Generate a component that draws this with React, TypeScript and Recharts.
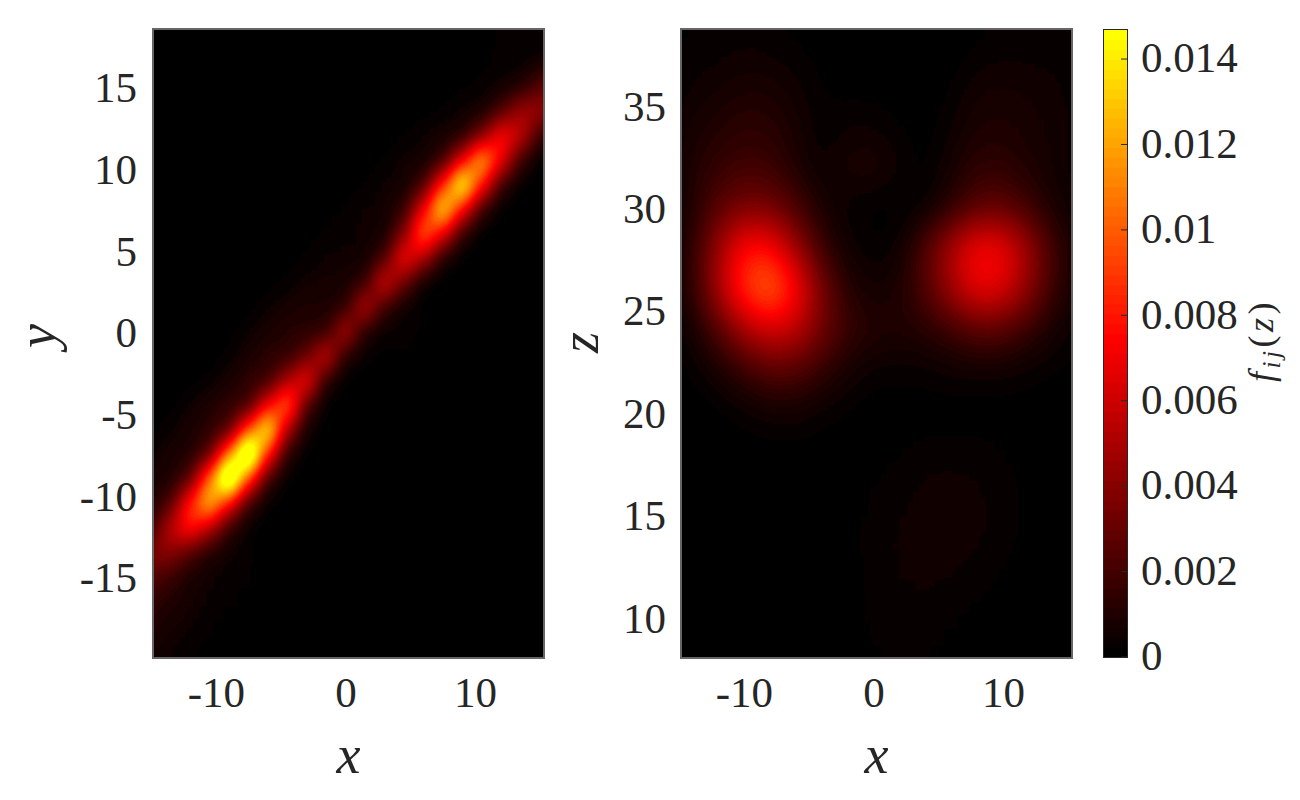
import { CartesianGrid, Scatter, ScatterChart, XAxis, YAxis } from 'recharts'

// colour scale limits, values below are in units of 1e-4
const COLOR_MAX = 146.8
const XY_GRAY_MAX = 220
const XZ_GRAY_MAX = 120
const LEVELS = 64

const xTicks = [-10, 0, 10]
const yTicks = [-15, -10, -5, 0, 5, 10, 15]
const zTicks = [10, 15, 20, 25, 30, 35]
const barTicks = [0, 0.002, 0.004, 0.006, 0.008, 0.01, 0.012, 0.014]

const xDomain = [-14.97, 15.37]
const yDomain = [-19.96, 18.62]
const zDomain = [8.02, 38.78]
const barDomain = [0, 0.01468]

// left panel f(x, y)
const xyCols = [-16.5, -15, -13.5, -12, -10.5, -9, -7.5, -6, -4.5, -3, -1.5, 0, 1.5, 3, 4.5, 6, 7.5, 9, 10.5, 12, 13.5, 15, 16.5]
const xyRows = [19.5, 18, 16.5, 15, 13.5, 12, 10.5, 9, 7.5, 6, 4.5, 3, 1.5, 0, -1.5, -3, -4.5, -6, -7.5, -9, -10.5, -12, -13.5, -15, -16.5, -18, -19.5, -21]
const xyValues = [
  [0, 0, 0, 0, 0, 0, 0, 0, 0, 0, 0, 0, 0, 0, 0, 0, 0, 0, 0, 2, 3, 3, 1],
  [0, 0, 0, 0, 0, 0, 0, 0, 0, 0, 0, 0, 0, 0, 0, 0, 0, 0, 1, 3, 4, 2, 1],
  [0, 0, 0, 0, 0, 0, 0, 0, 0, 0, 0, 0, 0, 0, 0, 0, 0, 0, 2, 3, 3, 5, 16],
  [0, 0, 0, 0, 0, 0, 0, 0, 0, 0, 0, 0, 0, 0, 0, 0, 0, 2, 3, 5, 10, 26, 40],
  [0, 0, 0, 0, 0, 0, 0, 0, 0, 0, 0, 0, 0, 0, 0, 1, 3, 5, 7, 22, 48, 48, 22],
  [0, 0, 0, 0, 0, 0, 0, 0, 0, 0, 0, 0, 0, 0, 2, 5, 7, 10, 36, 80, 60, 18, 3],
  [0, 0, 0, 0, 0, 0, 0, 0, 0, 0, 0, 0, 0, 3, 6, 6, 16, 66, 130, 74, 18, 2, 0],
  [0, 0, 0, 0, 0, 0, 0, 0, 0, 0, 0, 0, 3, 5, 6, 20, 84, 165, 84, 18, 2, 0, 0],
  [0, 0, 0, 0, 0, 0, 0, 0, 0, 0, 1, 3, 5, 6, 15, 70, 148, 78, 17, 1, 0, 0, 0],
  [0, 0, 0, 0, 0, 0, 0, 0, 0, 1, 3, 4, 5, 6, 38, 108, 70, 15, 1, 0, 0, 0, 0],
  [0, 0, 0, 0, 0, 0, 0, 0, 1, 3, 5, 5, 5, 22, 78, 52, 10, 1, 0, 0, 0, 0, 0],
  [0, 0, 0, 0, 0, 0, 0, 1, 3, 6, 7, 8, 16, 66, 32, 4, 0, 0, 0, 0, 0, 0, 0],
  [0, 0, 0, 0, 0, 0, 1, 4, 8, 10, 9, 14, 58, 18, 4, 1, 0, 0, 0, 0, 0, 0, 0],
  [0, 0, 0, 0, 0, 1, 4, 9, 12, 12, 15, 54, 11, 3, 4, 2, 0, 0, 0, 0, 0, 0, 0],
  [0, 0, 0, 0, 1, 3, 9, 14, 14, 30, 64, 12, 3, 2, 2, 0, 0, 0, 0, 0, 0, 0, 0],
  [0, 0, 0, 1, 3, 9, 15, 16, 50, 78, 13, 1, 1, 0, 0, 0, 0, 0, 0, 0, 0, 0, 0],
  [0, 0, 1, 5, 10, 15, 18, 72, 110, 24, 2, 0, 0, 0, 0, 0, 0, 0, 0, 0, 0, 0, 0],
  [0, 1, 4, 9, 13, 23, 96, 155, 50, 7, 0, 0, 0, 0, 0, 0, 0, 0, 0, 0, 0, 0, 0],
  [1, 4, 9, 10, 26, 110, 205, 84, 13, 1, 0, 0, 0, 0, 0, 0, 0, 0, 0, 0, 0, 0, 0],
  [3, 8, 9, 26, 106, 205, 95, 18, 2, 0, 0, 0, 0, 0, 0, 0, 0, 0, 0, 0, 0, 0, 0],
  [5, 8, 24, 86, 135, 76, 18, 3, 0, 0, 0, 0, 0, 0, 0, 0, 0, 0, 0, 0, 0, 0, 0],
  [8, 18, 58, 85, 54, 16, 3, 0, 0, 0, 0, 0, 0, 0, 0, 0, 0, 0, 0, 0, 0, 0, 0],
  [30, 40, 42, 24, 10, 5, 3, 1, 0, 0, 0, 0, 0, 0, 0, 0, 0, 0, 0, 0, 0, 0, 0],
  [30, 26, 17, 9, 5, 3.5, 2.3, 0, 0, 0, 0, 0, 0, 0, 0, 0, 0, 0, 0, 0, 0, 0, 0],
  [18, 15, 10, 7, 4.5, 3, 2, 0, 0, 0, 0, 0, 0, 0, 0, 0, 0, 0, 0, 0, 0, 0, 0],
  [11, 10, 7, 5, 2.5, 1, 0, 0, 0, 0, 0, 0, 0, 0, 0, 0, 0, 0, 0, 0, 0, 0, 0],
  [8, 7, 5, 3, 1.5, 0, 0, 0, 0, 0, 0, 0, 0, 0, 0, 0, 0, 0, 0, 0, 0, 0, 0],
  [6, 5, 4, 2, 1, 0, 0, 0, 0, 0, 0, 0, 0, 0, 0, 0, 0, 0, 0, 0, 0, 0, 0],
]

// right panel f(x, z)
const xzCols = [-18, -16, -14, -12, -10, -8, -6, -4, -2, 0, 2, 4, 6, 8, 10, 12, 14, 16, 18]
const xzRows = [40, 38, 36, 34, 32, 30, 28, 26, 24, 22, 20, 18, 16, 14, 12, 10, 8, 6]
const xzValues = [
  [1, 1, 1, 2, 2, 2, 1, 0, 0, 0, 0, 0, 0, 1, 2, 2, 2, 2, 2],
  [1, 2, 3, 3, 4, 3, 2, 1, 0, 0, 0, 0, 0, 2, 3, 3, 3, 3, 2],
  [1, 2, 4, 6, 8, 8, 5, 2, 1, 0.5, 0.5, 0, 2, 6, 7, 6, 5, 3, 2],
  [1, 3, 7, 11, 14, 13, 8, 2.5, 4, 4, 2, 0.5, 4, 9, 10, 8, 6, 3, 2],
  [1, 4, 10, 16, 19, 18, 10, 3.5, 9, 10, 5, 1, 7, 14, 14, 10, 6, 3, 1],
  [0.5, 2, 10, 26, 36, 34, 22, 8, 3, 1, 0.5, 3, 13, 26, 28, 18, 8, 3, 1],
  [0.5, 2, 14, 46, 78, 78, 48, 18, 5, 2, 4, 25, 52, 76, 72, 46, 18, 6, 1],
  [0.5, 2, 14, 50, 90, 106, 78, 36, 12, 6, 10, 24, 48, 70, 66, 42, 16, 5, 1],
  [0, 1, 6, 24, 48, 62, 56, 34, 18, 12, 10, 12, 18, 26, 25, 15, 7, 2, 1],
  [0, 0.5, 2, 7, 16, 25, 24, 15, 7, 3, 3, 3, 4, 4, 4, 3, 2, 1, 0.5],
  [0, 0, 0.5, 1, 3, 5, 5.5, 3, 1.5, 0.5, 0.5, 0.5, 0.5, 0.5, 0.5, 0.5, 0, 0, 0],
  [0, 0, 0, 0, 0.5, 0.5, 0.5, 0.5, 0.5, 1.5, 2, 3.3, 3.3, 3.3, 2.5, 1, 0, 0, 0],
  [0, 0, 0, 0, 0, 0, 0, 0, 0.8, 2.5, 3.5, 5.5, 6, 5.2, 3.3, 1.3, 0, 0, 0],
  [0, 0, 0, 0, 0, 0, 0, 0, 1.2, 3, 5, 6, 6, 5, 3.2, 1.2, 0, 0, 0],
  [0, 0, 0, 0, 0, 0, 0, 0, 1, 3, 4.5, 5, 4.5, 3.3, 1.8, 0.5, 0, 0, 0],
  [0, 0, 0, 0, 0, 0, 0, 0, 0.8, 3, 3.5, 3.5, 2.5, 1.5, 0.5, 0, 0, 0, 0],
  [0, 0, 0, 0, 0, 0, 0, 0, 0.5, 1.8, 2.6, 2.2, 1.2, 0.5, 0, 0, 0, 0, 0],
  [0, 0, 0, 0, 0, 0, 0, 0, 0, 0.5, 1, 0.5, 0, 0, 0, 0, 0, 0, 0],
]

const PLOT_W = 393
const PLOT_H = 630
const INK = '#262626'
const FONT = '"Liberation Serif", serif'

const tickStyle = { fontFamily: FONT, fontSize: 43, fill: INK }
const labelStyle = { fontFamily: FONT, fontStyle: 'italic', fontSize: 54, fill: INK }

// black -> red -> yellow
function levelColor(i: number) {
  const r = Math.min(1, i / 32)
  const g = Math.max(0, (i - 32) / 31)
  return [r, g, 0]
}

function channelTable(grayMax: number, n: number) {
  const entries = Array.from({ length: 256 }, (_, g) => {
    const level = Math.min(LEVELS - 1, Math.floor(((g / 255) * grayMax * LEVELS) / COLOR_MAX))
    return levelColor(level)[n].toFixed(3)
  })
  return entries.join(' ')
}

const barStep = barDomain[1] / LEVELS
const barCells = Array.from({ length: LEVELS }, (_, i) => ({ x: 0.5, y: (i + 0.5) * barStep, level: i }))
const barMarks = barTicks.map((y) => ({ x: 0.87, y }))

function toCells(cols: number[], rows: number[], values: number[][]) {
  return rows.flatMap((y, j) => cols.map((x, i) => ({ x, y, v: values[j][i] })))
}

const xyCells = toCells(xyCols, xyRows, xyValues)
const xzCells = toCells(xzCols, xzRows, xzValues)

function HeatFilter({ id, blur, grayMax }: { id: string; blur: string; grayMax: number }) {
  return (
    <filter id={id} filterUnits="userSpaceOnUse" x="-200" y="-200" width="1800" height="1200" colorInterpolationFilters="sRGB">
      <feGaussianBlur stdDeviation={blur} />
      <feComponentTransfer>
        <feFuncR type="discrete" tableValues={channelTable(grayMax, 0)} />
        <feFuncG type="discrete" tableValues={channelTable(grayMax, 1)} />
        <feFuncB type="discrete" tableValues={channelTable(grayMax, 2)} />
      </feComponentTransfer>
    </filter>
  )
}

function HeatPanel(props: {
  className: string
  left: number
  width: number
  axisWidth: number
  cells: { x: number; y: number; v: number }[]
  stepX: number
  stepY: number
  grayMax: number
  vDomain: number[]
  vTicks: number[]
  vLabel: string
  vLabelOffset: number
  vLabelShift: number
  tickGap: number
}) {
  const { className, left, width, axisWidth, cells, stepX, stepY, grayMax, vDomain, vTicks, vLabel, vLabelOffset, vLabelShift, tickGap } = props
  const cellW = (stepX / (xDomain[1] - xDomain[0])) * PLOT_W + 1
  const cellH = (stepY / (vDomain[1] - vDomain[0])) * PLOT_H + 1

  const renderCell = (p: any) => {
    const g = Math.round((Math.min(p.payload.v, grayMax) / grayMax) * 255)
    return <rect x={p.cx - cellW / 2} y={p.cy - cellH / 2} width={cellW} height={cellH} fill={`rgb(${g},${g},${g})`} />
  }

  return (
    <div style={{ position: 'absolute', left, top: 0 }}>
      <ScatterChart className={className} width={width} height={800} margin={{ top: 28, right: width - axisWidth - PLOT_W, bottom: 0, left: 0 }}>
        <CartesianGrid horizontal={false} vertical={false} fill="#000" />
        <XAxis
          type="number"
          dataKey="x"
          domain={xDomain}
          ticks={xTicks}
          allowDataOverflow
          height={142}
          tickSize={0}
          tickMargin={18}
          tick={tickStyle}
          axisLine={false}
          interval={0}
          label={{ value: 'x', position: 'insideBottom', offset: 27, style: labelStyle }}
        />
        <YAxis
          type="number"
          dataKey="y"
          domain={vDomain}
          ticks={vTicks}
          allowDataOverflow
          width={axisWidth}
          tickSize={0}
          tickMargin={tickGap}
          tick={tickStyle}
          axisLine={false}
          interval={0}
          label={{ value: vLabel, angle: -90, position: 'insideLeft', offset: vLabelOffset, dy: vLabelShift, style: labelStyle }}
        />
        <Scatter className="heat-layer" data={cells} shape={renderCell} isAnimationActive={false} />
      </ScatterChart>
      <div
        style={{
          position: 'absolute',
          left: axisWidth,
          top: 28,
          width: PLOT_W,
          height: PLOT_H + 1,
          boxSizing: 'border-box',
          border: '2px solid #666',
          pointerEvents: 'none',
        }}
      />
    </div>
  )
}

function ColorBar() {
  const barCellH = (barStep / barDomain[1]) * 627 + 1

  const renderLevel = (p: any) => {
    const [r, g] = levelColor(p.payload.level)
    return <rect x={p.cx - 11.5} y={p.cy - barCellH / 2} width={23} height={barCellH} fill={`rgb(${Math.round(r * 255)},${Math.round(g * 255)},0)`} />
  }
  const renderMark = (p: any) => <rect x={p.cx - 3} y={p.cy - 0.5} width={6} height={1} fill={INK} />

  return (
    <div style={{ position: 'absolute', left: 1090, top: 0 }}>
      <ScatterChart width={210} height={800} margin={{ top: 30, right: 0, bottom: 143, left: 14 }}>
        <XAxis type="number" dataKey="x" domain={[0, 1]} hide />
        <YAxis
          type="number"
          dataKey="y"
          orientation="right"
          domain={barDomain}
          ticks={barTicks}
          width={173}
          tickSize={0}
          tickMargin={14}
          tick={{ ...tickStyle, dy: -2 }}
          axisLine={false}
          interval={0}
          tickFormatter={(t: number) => String(t)}
        />
        <Scatter data={barCells} shape={renderLevel} isAnimationActive={false} />
        <Scatter data={barMarks} shape={renderMark} isAnimationActive={false} />
      </ScatterChart>
      <div style={{ position: 'absolute', left: 13, top: 29, width: 23, height: 627, border: `1px solid ${INK}`, pointerEvents: 'none' }} />
      <svg width={60} height={200} style={{ position: 'absolute', left: 150, top: 250 }}>
        <text transform="translate(33,132) rotate(-90)" fontFamily={FONT} fontSize={36} fill={INK} fontStyle="italic" letterSpacing={3.5}>
          f
          <tspan fontSize={25} dy={7}>ij</tspan>
          <tspan dy={-7} fontStyle="normal">(</tspan>
          <tspan>z</tspan>
          <tspan fontStyle="normal">)</tspan>
        </text>
      </svg>
    </div>
  )
}

export default function App() {
  return (
    <div style={{ position: 'absolute', left: 0, top: 0, width: 1300, height: 800, background: '#fff', overflow: 'hidden' }}>
      <style>{`
        .panel-xy .heat-layer { filter: url(#heat-xy); }
        .panel-xz .heat-layer { filter: url(#heat-xz); }
      `}</style>
      <svg width={0} height={0} style={{ position: 'absolute' }}>
        <defs>
          <HeatFilter id="heat-xy" blur="8 12" grayMax={XY_GRAY_MAX} />
          <HeatFilter id="heat-xz" blur="13 20" grayMax={XZ_GRAY_MAX} />
        </defs>
      </svg>
      <HeatPanel className="panel-xy" left={0} width={560} axisWidth={152} cells={xyCells} stepX={1.5} stepY={1.5} grayMax={XY_GRAY_MAX} vDomain={yDomain} vTicks={yTicks} vLabel="y" vLabelOffset={36} vLabelShift={5} tickGap={15} />
      <HeatPanel className="panel-xz" left={530} width={560} axisWidth={150} cells={xzCells} stepX={2} stepY={2} grayMax={XZ_GRAY_MAX} vDomain={zDomain} vTicks={zTicks} vLabel="z" vLabelOffset={49} vLabelShift={10} tickGap={14} />
      <ColorBar />
    </div>
  )
}
